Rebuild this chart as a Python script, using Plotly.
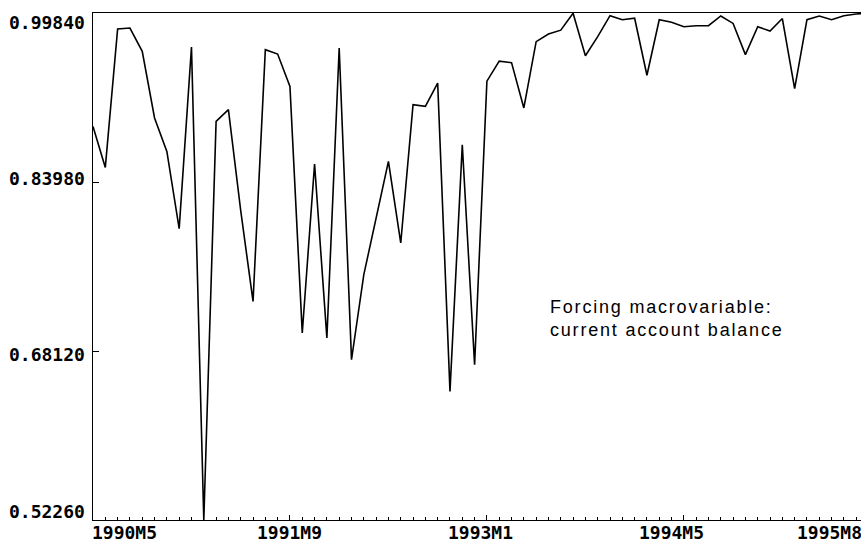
import plotly.graph_objects as go

# ---- data ----
periods = [
    "1990M5", "1990M6", "1990M7", "1990M8", "1990M9", "1990M10", "1990M11", "1990M12",
    "1991M1", "1991M2", "1991M3", "1991M4", "1991M5", "1991M6", "1991M7", "1991M8",
    "1991M9", "1991M10", "1991M11", "1991M12", "1992M1", "1992M2", "1992M3", "1992M4",
    "1992M5", "1992M6", "1992M7", "1992M8", "1992M9", "1992M10", "1992M11", "1992M12",
    "1993M1", "1993M2", "1993M3", "1993M4", "1993M5", "1993M6", "1993M7", "1993M8",
    "1993M9", "1993M10", "1993M11", "1993M12", "1994M1", "1994M2", "1994M3", "1994M4",
    "1994M5", "1994M6", "1994M7", "1994M8", "1994M9", "1994M10", "1994M11", "1994M12",
    "1995M1", "1995M2", "1995M3", "1995M4", "1995M5", "1995M6", "1995M7", "1995M8",
]
values = [
    0.8920, 0.8535, 0.9834, 0.9843, 0.9624, 0.8999, 0.8685, 0.7960,
    0.9665, 0.5226, 0.8967, 0.9077, 0.8129, 0.7278, 0.9640, 0.9599,
    0.9295, 0.6981, 0.8567, 0.6934, 0.9656, 0.6730, 0.7528, 0.8063,
    0.8591, 0.7826, 0.9123, 0.9108, 0.9327, 0.6433, 0.8748, 0.6683,
    0.9344, 0.9532, 0.9518, 0.9093, 0.9715, 0.9787, 0.9823, 0.9982,
    0.9583, 0.9762, 0.9959, 0.9921, 0.9935, 0.9400, 0.9921, 0.9898,
    0.9855, 0.9865, 0.9865, 0.9956, 0.9886, 0.9593, 0.9855, 0.9815,
    0.9932, 0.9274, 0.9921, 0.9956, 0.9921, 0.9959, 0.9975, 0.9982,
]
x_tick_labels = ["1990M5", "1991M9", "1993M1", "1994M5", "1995M8"]
y_tick_values = [0.52260, 0.68120, 0.83980, 0.99840]
y_tick_labels = ["0.52260", "0.68120", "0.83980", "0.99840"]
note_lines = ["Forcing macrovariable:", "current account balance"]

x_idx = list(range(len(values)))
label_idx = [periods.index(p) for p in x_tick_labels]

fig = go.Figure()
fig.add_trace(go.Scatter(
    x=x_idx, y=values, mode="lines", text=periods,
    line=dict(color="black", width=1.6),
    hovertemplate="%{text}: %{y:.4f}<extra></extra>",
    showlegend=False,
))

tick_font = dict(family="DejaVu Sans Mono", size=18, color="black", weight="bold")

annotations = []
# x tick labels (placement tweaks to match reference)
x_shift = [-3, 0, -6, -12, 0]
x_anchor = ["left", "center", "center", "center", "right"]
for i, (lab, idx) in enumerate(zip(x_tick_labels, label_idx)):
    if i == len(x_tick_labels) - 1:
        annotations.append(dict(x=1, xref="paper", y=0, yref="paper", text=lab,
                                showarrow=False, xanchor="right", yanchor="middle",
                                xshift=3, yshift=-12, font=tick_font))
    else:
        annotations.append(dict(x=idx, xref="x", y=0, yref="paper", text=lab,
                                showarrow=False, xanchor=x_anchor[i], yanchor="middle",
                                xshift=x_shift[i], yshift=-12, font=tick_font))
# y tick labels
y_shift = [9, -3, 3.5, -9]
for v, lab, ys in zip(y_tick_values, y_tick_labels, y_shift):
    annotations.append(dict(x=0, xref="paper", y=v, yref="y", text=lab,
                            showarrow=False, xanchor="right", yanchor="middle",
                            xshift=-6, yshift=ys, font=tick_font))
# note
note = "<br>".join(f'<span style="letter-spacing:1.8px">{t}</span>' for t in note_lines)
annotations.append(dict(x=0.5924, xref="paper", y=0.397, yref="paper", text=note,
                        showarrow=False, xanchor="left", yanchor="middle", align="left",
                        font=dict(family="Liberation Sans", size=18, color="black")))

fig.update_layout(
    width=861, height=543,
    margin=dict(l=93, r=0, t=13, b=23),
    paper_bgcolor="white", plot_bgcolor="white",
    annotations=annotations,
    xaxis=dict(range=[0, 62.39], showline=True, linecolor="black", linewidth=1.2,
               mirror=True, ticks="inside", tickmode="linear", tick0=0,
               dtick=label_idx[1] - label_idx[0], ticklen=5,
               tickcolor="black", tickwidth=1, showticklabels=False,
               showgrid=False, zeroline=False,
               minor=dict(ticks="inside", ticklen=3, dtick=1, tick0=0,
                          tickcolor="black", tickwidth=1, showgrid=False)),
    yaxis=dict(range=[0.5226, 0.9984], showline=True, linecolor="black", linewidth=1.2,
               ticks="inside", tickvals=y_tick_values, ticklen=6, tickcolor="black",
               showticklabels=False, showgrid=False, zeroline=False),
)

fig.write_html("out.html")
